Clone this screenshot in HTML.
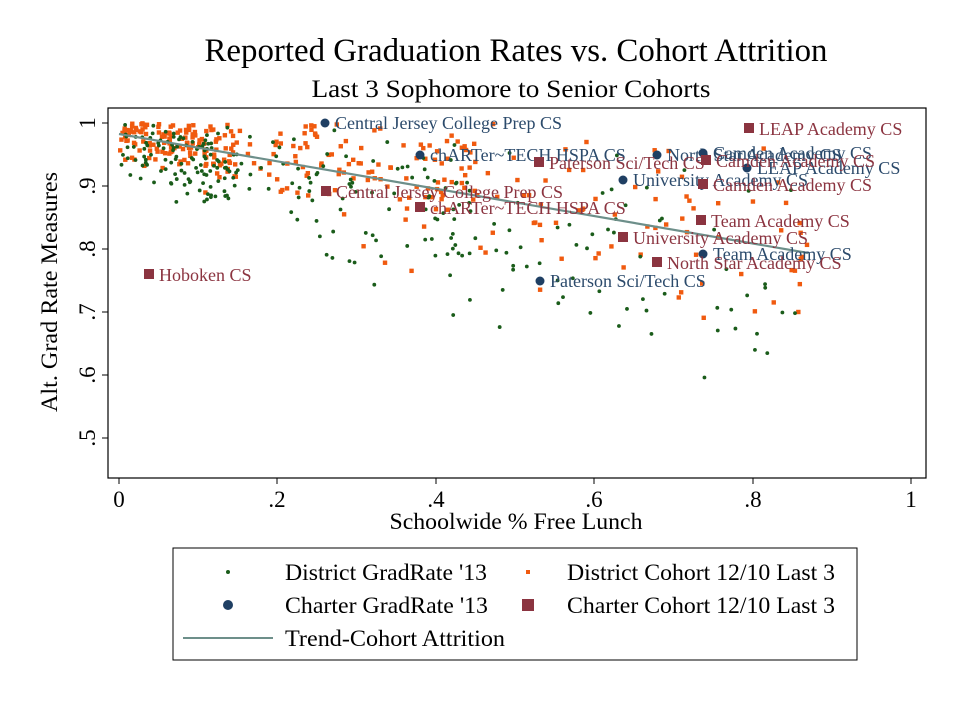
<!DOCTYPE html>
<html><head><meta charset="utf-8"><style>
html,body{margin:0;padding:0;background:#fff;}
svg{display:block;font-family:"Liberation Serif",serif;}
</style></head><body>
<svg id="s" width="960" height="720" viewBox="0 0 960 720">
<rect width="960" height="720" fill="#fff"/>
<text x="516" y="61" font-size="33" text-anchor="middle" fill="#000" textLength="623" lengthAdjust="spacingAndGlyphs">Reported Graduation Rates vs. Cohort Attrition</text>
<text x="511" y="97" font-size="25" text-anchor="middle" fill="#000" textLength="399" lengthAdjust="spacingAndGlyphs">Last 3 Sophomore to Senior Cohorts</text>
<rect x="108" y="108" width="818" height="370" fill="#fff" stroke="#000" stroke-width="1.2"/>
<g id="pts"></g>
<line x1="119" y1="134" x2="808" y2="253" stroke="#6d8f8a" stroke-width="2.2"/>
<g id="lab" font-size="18"></g>
<g stroke="#000" stroke-width="1">
<line x1="102" y1="123" x2="108" y2="123"/><line x1="102" y1="186" x2="108" y2="186"/>
<line x1="102" y1="249" x2="108" y2="249"/><line x1="102" y1="312" x2="108" y2="312"/>
<line x1="102" y1="375" x2="108" y2="375"/><line x1="102" y1="438" x2="108" y2="438"/>
<line x1="119" y1="478" x2="119" y2="484"/><line x1="277" y1="478" x2="277" y2="484"/>
<line x1="436" y1="478" x2="436" y2="484"/><line x1="594" y1="478" x2="594" y2="484"/>
<line x1="753" y1="478" x2="753" y2="484"/><line x1="911" y1="478" x2="911" y2="484"/>
</g>
<g font-size="23" fill="#000" text-anchor="middle">
<text transform="translate(95,123) rotate(-90)">1</text>
<text transform="translate(95,186) rotate(-90)">.9</text>
<text transform="translate(95,249) rotate(-90)">.8</text>
<text transform="translate(95,312) rotate(-90)">.7</text>
<text transform="translate(95,375) rotate(-90)">.6</text>
<text transform="translate(95,438) rotate(-90)">.5</text>
<text x="119" y="507">0</text><text x="277" y="507">.2</text><text x="436" y="507">.4</text>
<text x="594" y="507">.6</text><text x="753" y="507">.8</text><text x="911" y="507">1</text>
<text x="516" y="529" textLength="253" lengthAdjust="spacingAndGlyphs">Schoolwide % Free Lunch</text>
<text transform="translate(57,292) rotate(-90)" textLength="240" lengthAdjust="spacingAndGlyphs">Alt. Grad Rate Measures</text>
</g>
<rect x="173" y="548" width="684" height="112" fill="#fff" stroke="#000" stroke-width="1"/>
<g font-size="23" fill="#000">
<circle cx="228" cy="572" r="2" fill="#1a5c1a"/><text x="285" y="580" textLength="202" lengthAdjust="spacingAndGlyphs">District GradRate '13</text>
<rect x="526" y="570" width="4" height="4" fill="#f05a0f"/><text x="567" y="580" textLength="268" lengthAdjust="spacingAndGlyphs">District Cohort 12/10 Last 3</text>
<circle cx="228" cy="605" r="5" fill="#1f3f63"/><text x="285" y="613" textLength="203" lengthAdjust="spacingAndGlyphs">Charter GradRate '13</text>
<rect x="522" y="599" width="12" height="12" fill="#8b3440"/><text x="567" y="613" textLength="268" lengthAdjust="spacingAndGlyphs">Charter Cohort 12/10 Last 3</text>
<line x1="183" y1="638" x2="273" y2="638" stroke="#6d8f8a" stroke-width="2"/><text x="285" y="646" textLength="220" lengthAdjust="spacingAndGlyphs">Trend-Cohort Attrition</text>
</g>
</svg>
<script>
var ns="http://www.w3.org/2000/svg",g=document.getElementById('pts'),lab=document.getElementById('lab');
var seed=11;function r(){seed=(seed*16807)%2147483647;return seed/2147483647;}
function n(){return (r()+r()+r()+r()-2)*0.87;}
function X(v){return 119+v*792}function Y(v){return 123+(1-v)*630}
function xs(){var u=r();return u<0.35?r()*0.15:(u<0.65?0.05+r()*0.4:0.2+r()*0.67);}
for(var i=0;i<330;i++){var x=xs(),y=0.985-0.2*x+n()*(0.04+x*0.16);if(y>1)y=1-r()*0.02;if(y<0.5)y=0.52;
var e=document.createElementNS(ns,'rect');e.setAttribute('x',X(x)-2.2);e.setAttribute('y',Y(y)-2.2);e.setAttribute('width',4.4);e.setAttribute('height',4.4);e.setAttribute('fill','#f05a0f');g.appendChild(e);}
for(var i=0;i<270;i++){var x=xs(),y=0.965-0.27*x+n()*(0.045+x*0.2);if(y>1)y=0.99-r()*0.015;if(y<0.47)y=0.47+r()*0.04;
var e=document.createElementNS(ns,'circle');e.setAttribute('cx',X(x));e.setAttribute('cy',Y(y));e.setAttribute('r',1.9);e.setAttribute('fill','#1a5c1a');g.appendChild(e);}
var C=[[325,123,"Central Jersey College Prep CS"],[420,155,"chARTer~TECH HSPA CS"],[540,281,"Paterson Sci/Tech CS"],[623,180,"University Academy CS"],[657,155,"North Star Academy CS"],[703,254,"Team Academy CS"],[747,168,"LEAP Academy CS"],[703,153,"Camden Academy CS"]];
var M=[[326,191,"Central Jersey College Prep CS"],[420,207,"chARTer~TECH HSPA CS"],[539,162,"Paterson Sci/Tech CS"],[623,237,"University Academy CS"],[657,262,"North Star Academy CS"],[701,220,"Team Academy CS"],[749,128,"LEAP Academy CS"],[703,184,"Camden Academy CS"],[706,160,"Camden Academy CS"],[149,274,"Hoboken CS"]];
C.forEach(function(a){var c=document.createElementNS(ns,'circle');c.setAttribute('cx',a[0]);c.setAttribute('cy',a[1]);c.setAttribute('r',4.5);c.setAttribute('fill','#1f3f63');lab.appendChild(c);
var t=document.createElementNS(ns,'text');t.setAttribute('x',a[0]+10);t.setAttribute('y',a[1]+6);t.setAttribute('fill','#2b4a6b');t.textContent=a[2];lab.appendChild(t);});
M.forEach(function(a){var c=document.createElementNS(ns,'rect');c.setAttribute('x',a[0]-5);c.setAttribute('y',a[1]-5);c.setAttribute('width',10);c.setAttribute('height',10);c.setAttribute('fill','#8b3440');lab.appendChild(c);
var t=document.createElementNS(ns,'text');t.setAttribute('x',a[0]+10);t.setAttribute('y',a[1]+7);t.setAttribute('fill','#8b3440');t.textContent=a[2];lab.appendChild(t);});
</script>
</body></html>
